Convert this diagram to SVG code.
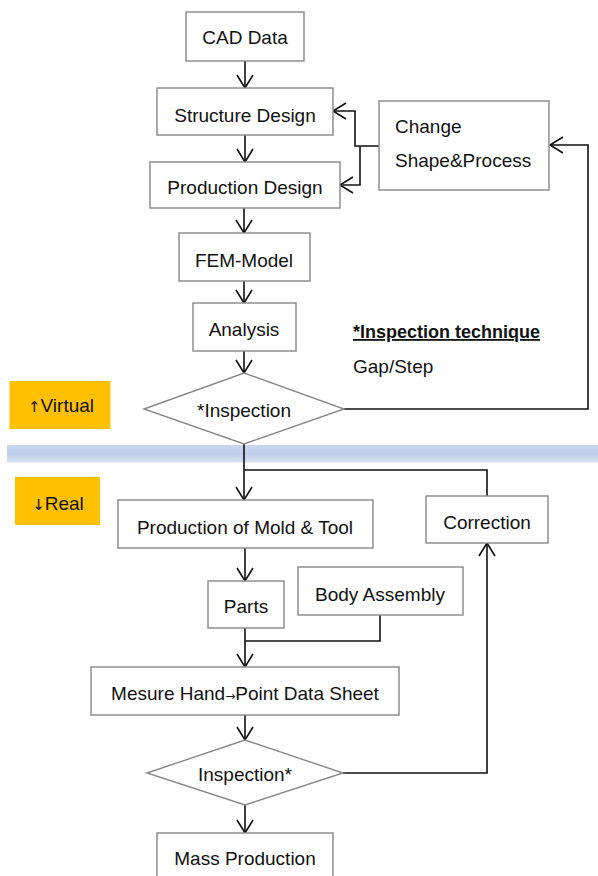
<svg xmlns="http://www.w3.org/2000/svg" width="598" height="876" viewBox="0 0 598 876">
<style>
.box{fill:#fff;stroke:#888;stroke-width:1.4}
.tag{fill:#FFC000}
.t{font-family:"Liberation Sans",Arial,sans-serif;font-size:19px;fill:#111;text-anchor:middle}
.tl{font-family:"Liberation Sans",Arial,sans-serif;font-size:19px;fill:#111}
.b{font-weight:bold;font-size:18px;text-decoration:underline}
.ar{font-family:"DejaVu Sans",sans-serif;fill:#111}
.c{fill:none;stroke:#111;stroke-width:1.6}
</style>
<defs>
<marker id="ah" viewBox="-14 -9 16 18" refX="0" refY="0" markerWidth="16" markerHeight="18" markerUnits="userSpaceOnUse" orient="auto">
<path d="M-13,-8 L0,0 L-13,8" fill="none" stroke="#111" stroke-width="1.6"/>
</marker>
<linearGradient id="band" x1="0" y1="0" x2="0" y2="1">
<stop offset="0" stop-color="#CAD7EE"/>
<stop offset="0.5" stop-color="#BFCEEA"/>
<stop offset="1" stop-color="#D8E1F3"/>
</linearGradient>
</defs>
<rect x="7" y="445" width="591" height="17.5" fill="url(#band)"/>
<g id="connectors">
<path class="c" d="M245,61 V88" marker-end="url(#ah)"/>
<path class="c" d="M245,135 V162" marker-end="url(#ah)"/>
<path class="c" d="M244,208 V233" marker-end="url(#ah)"/>
<path class="c" d="M244,281 V303" marker-end="url(#ah)"/>
<path class="c" d="M244,351 V373" marker-end="url(#ah)"/>
<path class="c" d="M244,444 V500" marker-end="url(#ah)"/>
<path class="c" d="M487,496 V470 H244"/>
<path class="c" d="M245,548 V581" marker-end="url(#ah)"/>
<path class="c" d="M245,628 V667" marker-end="url(#ah)"/>
<path class="c" d="M380,615 V641 H245"/>
<path class="c" d="M245,715 V740" marker-end="url(#ah)"/>
<path class="c" d="M245,805 V833" marker-end="url(#ah)"/>
<path class="c" d="M343,773 H487 V543" marker-end="url(#ah)"/>
<path class="c" d="M344,409 H588 V145 H550" marker-end="url(#ah)"/>
<path class="c" d="M379,146 H355 V111 H333" marker-end="url(#ah)"/>
<path class="c" d="M360,146 V185 H340" marker-end="url(#ah)"/>
</g>
<g id="cad"><rect class="box" x="186" y="12" width="118" height="49"/><text class="t" x="245" y="44">CAD Data</text></g>
<g id="structure"><rect class="box" x="157" y="88" width="176" height="47"/><text class="t" x="245" y="122">Structure Design</text></g>
<g id="production"><rect class="box" x="150" y="162" width="190" height="46"/><text class="t" x="245" y="194">Production Design</text></g>
<g id="change"><rect class="box" x="379" y="101" width="170" height="89"/><text class="tl" x="395" y="133">Change</text><text class="tl" x="395" y="167">Shape&amp;Process</text></g>
<g id="fem"><rect class="box" x="179" y="233" width="131" height="48"/><text class="t" x="244" y="267">FEM-Model</text></g>
<g id="analysis"><rect class="box" x="193" y="303" width="103" height="48"/><text class="t" x="244" y="336">Analysis</text></g>
<g id="note"><text class="tl b" x="353" y="338">*Inspection technique</text><text class="tl" x="353" y="373">Gap/Step</text></g>
<g id="virtual"><rect class="tag" x="9.5" y="381" width="101" height="48"/><text class="t" x="61" y="412"><tspan class="ar" font-size="15">↑</tspan>Virtual</text></g>
<g id="inspection1"><polygon class="box" points="144,409 244,373 344,409 244,444"/><text class="t" x="244" y="417">*Inspection</text></g>
<g id="real"><rect class="tag" x="15" y="477" width="85" height="48"/><text class="t" x="58" y="510"><tspan class="ar" font-size="15">↓</tspan>Real</text></g>
<g id="mold"><rect class="box" x="118" y="500" width="255" height="48"/><text class="t" x="245" y="534">Production of Mold &amp; Tool</text></g>
<g id="correction"><rect class="box" x="426" y="496" width="122" height="47"/><text class="t" x="487" y="529">Correction</text></g>
<g id="parts"><rect class="box" x="208" y="581" width="76" height="47"/><text class="t" x="246" y="613">Parts</text></g>
<g id="body"><rect class="box" x="298" y="567" width="165" height="48"/><text class="t" x="380" y="601">Body Assembly</text></g>
<g id="mesure"><rect class="box" x="91" y="667" width="308" height="48"/><text class="t" x="245" y="700">Mesure Hand<tspan class="ar" font-size="12">→</tspan>Point Data Sheet</text></g>
<g id="inspection2"><polygon class="box" points="147,773 245,740 343,773 245,805"/><text class="t" x="245" y="781">Inspection*</text></g>
<g id="mass"><rect class="box" x="157" y="833" width="176" height="50"/><text class="t" x="245" y="865">Mass Production</text></g>
</svg>
